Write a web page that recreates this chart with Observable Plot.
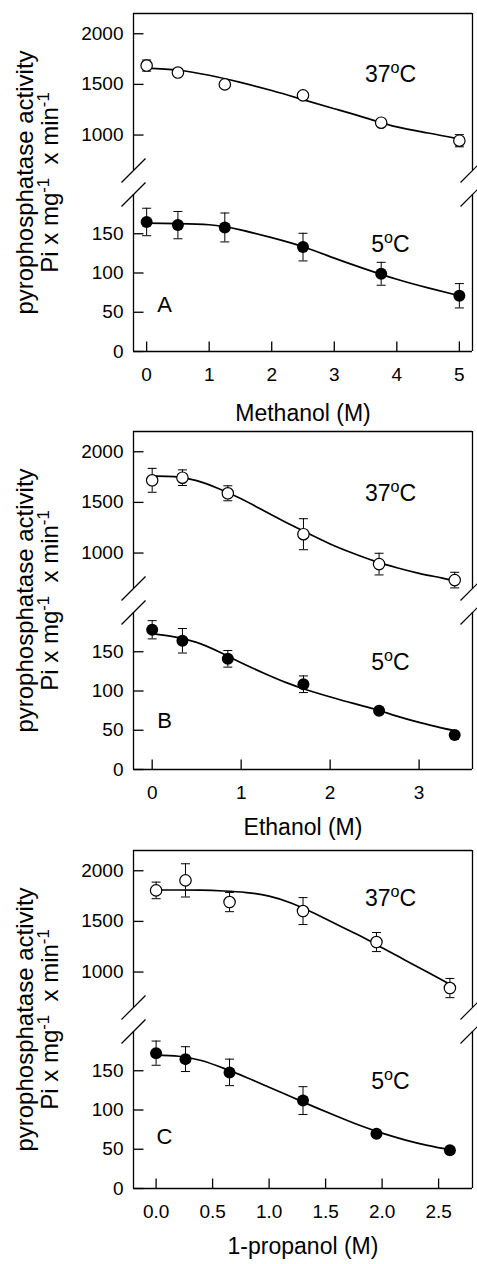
<!DOCTYPE html>
<html>
<head>
<meta charset="utf-8">
<script src="https://cdn.jsdelivr.net/npm/d3@7"></script>
<script src="https://cdn.jsdelivr.net/npm/@observablehq/plot@0.6"></script>
<style>
  body { margin: 0; background: #fff; }
  #chart svg { display: block; overflow: visible; background: transparent; }
</style>
</head>
<body>
<div id="chart"></div>
<script>
// ---------- data ----------
const yTicksUpper = [1000, 1500, 2000];
const yTicksLower = [0, 50, 100, 150];

// Panel A: methanol
const methanolConc   = [0, 0.5, 1.25, 2.5, 3.75, 5];
const methanol37     = [1686, 1617, 1500, 1392, 1122, 944];
const methanol37Err  = [55, 25, 25, 25, 30, 60];
const methanol5      = [165, 161, 158, 133, 99, 71];
const methanol5Err   = [17.5, 17.4, 18.4, 17.6, 14.6, 15.5];
const methanolFitX   = [0, 0.5, 1, 1.5, 2, 2.5, 3, 3.5, 4, 4.5, 5];
const methanolFit37  = [1660, 1640, 1590, 1520, 1440, 1350, 1260, 1170, 1080, 1020, 960];
const methanolFit5   = [163.5, 163, 161.5, 155, 145, 133.5, 119, 105, 92, 81, 71];
const methanolTicks  = [0, 1, 2, 3, 4, 5];

// Panel B: ethanol
const ethanolConc    = [0, 0.34, 0.85, 1.7, 2.55, 3.4];
const ethanol37      = [1718, 1744, 1590, 1186, 891, 733];
const ethanol37Err   = [118, 77, 74, 153, 107, 77];
const ethanol5       = [178, 164, 141, 108.6, 74.8, 44];
const ethanol5Err    = [11.6, 15.6, 10.6, 10.6, 3, 2];
const ethanolFitX    = [0, 0.25, 0.5, 0.75, 1, 1.25, 1.5, 1.75, 2, 2.25, 2.5, 2.75, 3, 3.25, 3.4];
const ethanolFit37   = [1760, 1755, 1715, 1635, 1535, 1420, 1305, 1195, 1090, 1000, 920, 855, 800, 755, 725];
const ethanolFit5    = [173, 169, 162, 150, 136, 123, 111, 101, 92.5, 84.5, 77, 68, 60, 53, 49.5];
const ethanolTicks   = [0, 1, 2, 3];

// Panel C: 1-propanol
const propanolConc   = [0, 0.26, 0.65, 1.3, 1.95, 2.6];
const propanol37     = [1806, 1905, 1691, 1602, 1296, 842];
const propanol37Err  = [82, 164, 95, 133, 94, 95];
const propanol5      = [172.4, 164.8, 147.9, 112, 69.7, 48.6];
const propanol5Err   = [15.4, 15.8, 16.9, 17.7, 4, 2];
const propanolFitX   = [0, 0.2, 0.4, 0.6, 0.8, 1.0, 1.2, 1.4, 1.6, 1.8, 2.0, 2.2, 2.4, 2.6];
const propanolFit37  = [1810, 1810, 1808, 1800, 1785, 1750, 1680, 1580, 1470, 1360, 1240, 1120, 1000, 880];
const propanolFit5   = [170, 168.5, 163, 153, 141.5, 129, 116.5, 104, 92, 80.5, 70.5, 62, 55, 49.5];
const propanolTicks  = [0, 0.5, 1.0, 1.5, 2.0, 2.5];

// ---------- layout ----------
const breakLow = 200, breakHigh = 650, yTop = 2200;
const FONT = "'Liberation Sans', Arial, Helvetica, sans-serif";
const STYLE = {fontFamily: FONT, fontSize: "19px", color: "black", background: "transparent", overflow: "visible"};
const UPPER_H = 182;     // upper segment svg height
const LOWER_FRAME = 169; // bottom frame line inside the lower svg

const panels = [
  {letter: "A", xLabel: "Methanol (M)", xDomain: [-0.21, 5.21], xTicks: methanolTicks, fmt: d3.format("d"),
   conc: methanolConc, v37: methanol37, e37: methanol37Err, v5: methanol5, e5: methanol5Err,
   fitX: methanolFitX, fit37: methanolFit37, fit5: methanolFit5, height: 418, hotDy: 61, letterDy: 110, labelDy: 62},
  {letter: "B", xLabel: "Ethanol (M)", xDomain: [-0.21, 3.6], xTicks: ethanolTicks, fmt: d3.format("d"),
   conc: ethanolConc, v37: ethanol37, e37: ethanol37Err, v5: ethanol5, e5: ethanol5Err,
   fitX: ethanolFitX, fit37: ethanolFit37, fit5: ethanolFit5, height: 419, hotDy: 62, letterDy: 108, labelDy: 58},
  {letter: "C", xLabel: "1-propanol (M)", xDomain: [-0.2, 2.8], xTicks: propanolTicks, fmt: d3.format(".1f"),
   conc: propanolConc, v37: propanol37, e37: propanol37Err, v5: propanol5, e5: propanol5Err,
   fitX: propanolFitX, fit37: propanolFit37, fit5: propanolFit5, height: 427, hotDy: 48, letterDy: 105, labelDy: 58}
];

// custom symbols (pixel-shaped glyphs placed at data positions)
const slash   = {draw(ctx) { ctx.moveTo(-12, 12); ctx.lineTo(12, -12); }};
const tickIn  = {draw(ctx) { ctx.moveTo(0, 0); ctx.lineTo(10, 0); }};
const tickUp  = {draw(ctx) { ctx.moveTo(0, 0); ctx.lineTo(0, -10); }};
const capSym  = {draw(ctx) { ctx.moveTo(-4.5, 0); ctx.lineTo(4.5, 0); }};

function applySup(svg) {
  svg.querySelectorAll("text, tspan").forEach(el => {
    for (const node of Array.from(el.childNodes)) {
      if (node.nodeType === 3 && node.nodeValue.includes("^{")) {
        const parts = node.nodeValue.split(/\^\{([^}]*)\}/);
        const frag = document.createDocumentFragment();
        parts.forEach((p, i) => {
          if (!p) return;
          if (i % 2 === 0) frag.appendChild(document.createTextNode(p));
          else {
            const t = document.createElementNS("http://www.w3.org/2000/svg", "tspan");
            t.setAttribute("baseline-shift", "super");
            t.setAttribute("font-size", "70%");
            t.textContent = p;
            frag.appendChild(t);
          }
        });
        el.replaceChild(frag, node);
      }
    }
  });
}

const LW = 1.3;
const K = {stroke: "black", strokeWidth: LW};

function seriesMarks(points, fit, filled) {
  return [
    Plot.line(fit, {x: "c", y: "v", curve: "natural", stroke: "black", strokeWidth: 1.7}),
    Plot.ruleX(points, {x: "c", y1: d => d.v - d.e, y2: d => d.v + d.e, stroke: "black", strokeWidth: 1}),
    Plot.dot(points, {x: "c", y: d => d.v + d.e, symbol: capSym, stroke: "black", fill: "none", strokeWidth: 1}),
    Plot.dot(points, {x: "c", y: d => d.v - d.e, symbol: capSym, stroke: "black", fill: "none", strokeWidth: 1}),
    filled
      ? Plot.dot(points, {x: "c", y: "v", r: 6, fill: "black", stroke: "none"})
      : Plot.dot(points, {x: "c", y: "v", r: 5.7, fill: "white", stroke: "black", strokeWidth: 1.2})
  ];
}

function upperPlot(p) {
  const [x0, x1] = p.xDomain;
  const pts = p.conc.map((c, i) => ({c, v: p.v37[i], e: p.e37[i]}));
  const fit = p.fitX.map((c, i) => ({c, v: p.fit37[i]}));
  const svg = Plot.plot({
    width: 477, height: UPPER_H, marginLeft: 133, marginRight: 5, marginTop: 13, marginBottom: 12,
    style: STYLE,
    x: {domain: p.xDomain, axis: null},
    y: {domain: [breakHigh, yTop], axis: null},
    marks: [
      Plot.ruleY([yTop], {x1: x0, x2: x1, ...K}),
      Plot.ruleX([x0, x1], {y1: breakHigh, y2: yTop, ...K}),
      Plot.dot([x0, x1], {x: d => d, y: () => breakHigh, symbol: slash, stroke: "black", fill: "none", strokeWidth: 1.2}),
      Plot.dot(yTicksUpper, {x: () => x0, y: d => d, symbol: tickIn, stroke: "black", fill: "none", strokeWidth: LW}),
      Plot.text(yTicksUpper, {x: () => x0, y: d => d, text: d => d3.format("d")(d), textAnchor: "end", lineAnchor: "middle", dx: -10, fontSize: 19, fill: "black"}),
      ...seriesMarks(pts, fit, false),
      Plot.text(["37^{o}C"], {frameAnchor: "top-left", dx: 257, dy: p.hotDy, textAnchor: "middle", lineAnchor: "middle", fontSize: 23, fill: "black"})
    ]
  });
  applySup(svg);
  return svg;
}

function lowerPlot(p) {
  const [x0, x1] = p.xDomain;
  const h = p.height - UPPER_H;
  const pts = p.conc.map((c, i) => ({c, v: p.v5[i], e: p.e5[i]}));
  const fit = p.fitX.map((c, i) => ({c, v: p.fit5[i]}));
  const svg = Plot.plot({
    width: 477, height: h, marginLeft: 133, marginRight: 5, marginTop: 12, marginBottom: h - LOWER_FRAME,
    style: STYLE,
    x: {domain: p.xDomain, axis: null},
    y: {domain: [0, breakLow], axis: null},
    marks: [
      Plot.ruleY([0], {x1: x0, x2: x1, ...K}),
      Plot.ruleX([x0, x1], {y1: 0, y2: breakLow, ...K}),
      Plot.dot([x0, x1], {x: d => d, y: () => breakLow, symbol: slash, stroke: "black", fill: "none", strokeWidth: 1.2}),
      Plot.dot(yTicksLower, {x: () => x0, y: d => d, symbol: tickIn, stroke: "black", fill: "none", strokeWidth: LW}),
      Plot.text(yTicksLower, {x: () => x0, y: d => d, text: d => d3.format("d")(d), textAnchor: "end", lineAnchor: "middle", dx: -10, fontSize: 19, fill: "black"}),
      Plot.dot(p.xTicks, {x: d => d, y: () => 0, symbol: tickUp, stroke: "black", fill: "none", strokeWidth: LW}),
      Plot.text(p.xTicks, {x: d => d, y: () => 0, text: d => p.fmt(d), lineAnchor: "top", dy: 16, fontSize: 19, fill: "black"}),
      ...seriesMarks(pts, fit, true),
      Plot.text(["5^{o}C"], {frameAnchor: "top-left", dx: 257, dy: 50, textAnchor: "middle", lineAnchor: "middle", fontSize: 23, fill: "black"}),
      Plot.text([p.letter], {frameAnchor: "top-left", dx: 31, dy: p.letterDy, textAnchor: "middle", lineAnchor: "middle", fontSize: 22, fill: "black"}),
      Plot.text([p.xLabel], {frameAnchor: "bottom", dy: p.labelDy, lineAnchor: "middle", fontSize: 23, fill: "black"}),
      Plot.text(["pyrophosphatase activity"], {frameAnchor: "top-left", dx: -101, dy: -12, rotate: -90, lineAnchor: "bottom", textAnchor: "middle", fontSize: 24, fill: "black"}),
      Plot.text(["Pi x mg^{-1}\u00a0 x min^{-1}"], {frameAnchor: "top-left", dx: -76, dy: -12, rotate: -90, lineAnchor: "bottom", textAnchor: "middle", fontSize: 24, fill: "black"})
    ]
  });
  applySup(svg);
  return svg;
}

const chart = document.getElementById("chart");
for (const p of panels) {
  chart.appendChild(upperPlot(p));
  chart.appendChild(lowerPlot(p));
}
</script>
</body>
</html>
